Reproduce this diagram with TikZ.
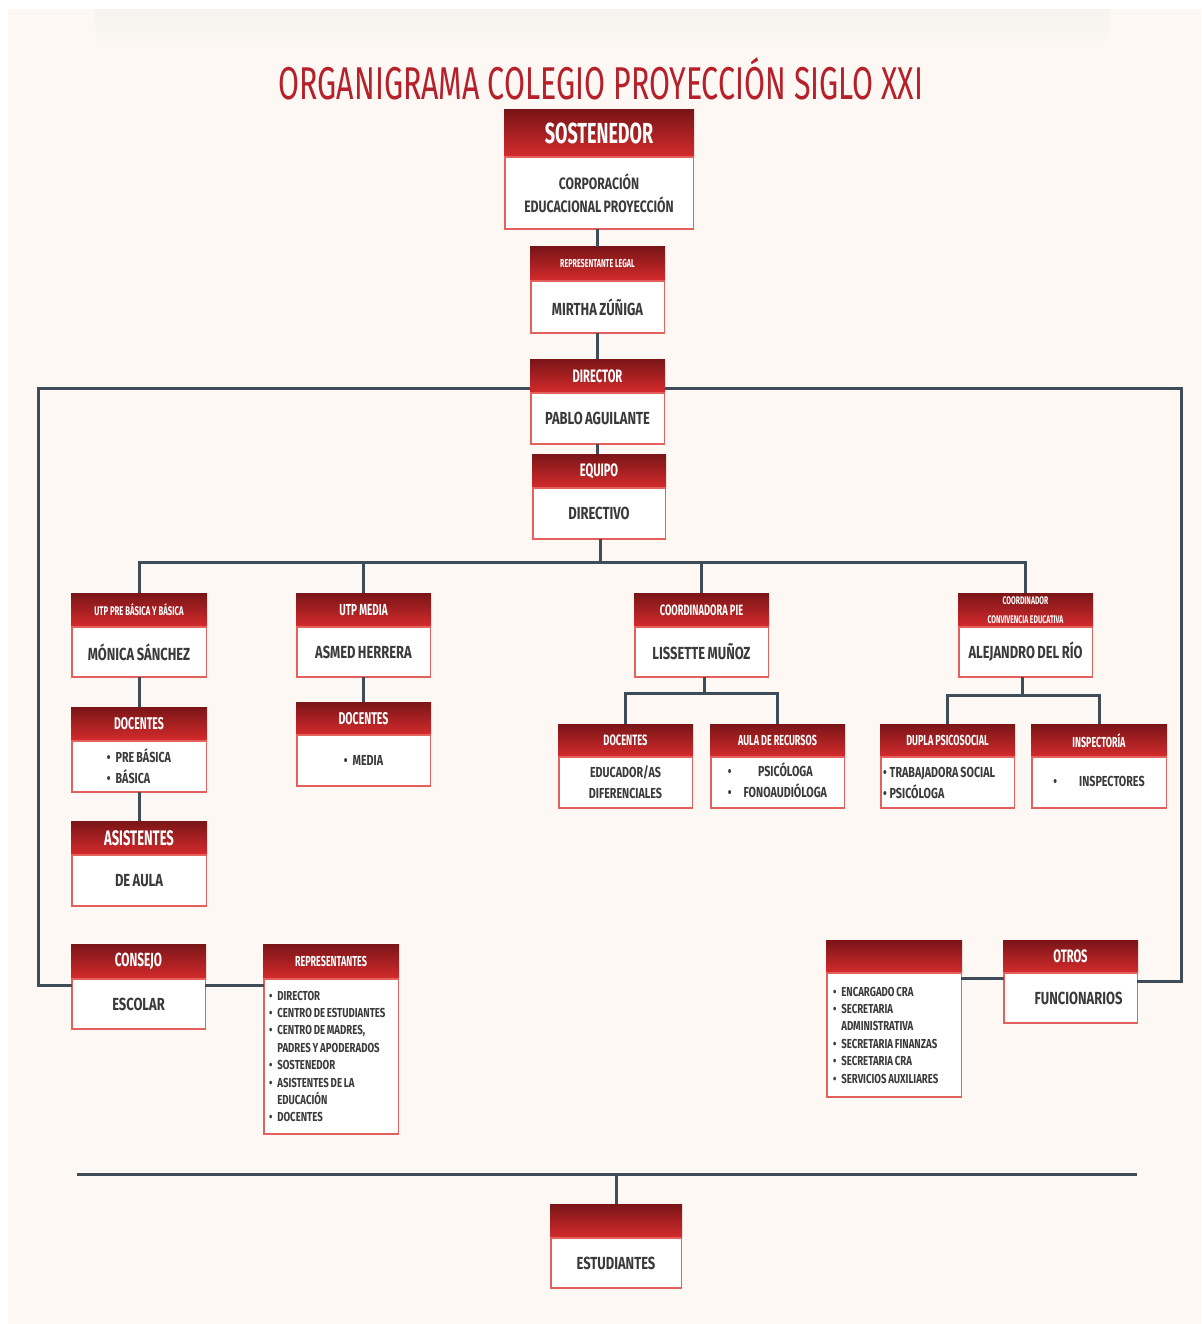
\documentclass[tikz,border=0pt]{standalone}
\usepackage{fontspec}
\setmainfont{Fira Sans}
\newfontfamily\headfam[FakeStretch=0.62]{Fira Sans}
\newfontfamily\bodyfam[FakeStretch=0.74,WordSpace=0.8]{Fira Sans}
\newfontfamily\titlefam[FakeStretch=0.66]{Fira Sans}
\usepackage{tikz}
\usetikzlibrary{positioning}

\definecolor{cream}{HTML}{FDF8F4}
\definecolor{band}{HTML}{EFEFEC}
\definecolor{hdark}{HTML}{7A1517}
\definecolor{hred}{HTML}{D52B2D}
\definecolor{bline}{HTML}{E4605C}
\definecolor{linkc}{HTML}{3F4D59}
\definecolor{txt}{HTML}{3A3A3A}
\definecolor{titlered}{HTML}{B5202A}

\newcommand\hdfont[1]{\headfam\bfseries\fontsize{#1}{#1}\selectfont}
\newcommand\bdfont[2]{\bodyfam\bfseries\fontsize{#1}{#2}\selectfont}
\newcommand\bul{•\hspace{5pt}}

\begin{document}
\begin{tikzpicture}[x=1pt,y=-1pt,node distance=0pt,
  head/.style={top color=hdark,bottom color=hred,text=white,minimum width=135pt,
    minimum height=34pt,inner sep=0pt,outer sep=0pt,anchor=north,font=\hdfont{17}},
  body/.style={draw=bline,line width=1.5pt,fill=white,text=txt,minimum width=133.5pt,
    minimum height=51pt,inner sep=0pt,outer sep=0pt,align=center,font=\bdfont{17.5}{21}},
  smallbody/.style={font=\bdfont{14.5}{21}},
  listbody/.style={font=\bdfont{13}{17.4},align=flush left},
  link/.style={draw=linkc,line width=3pt}]

\useasboundingbox (0,0) rectangle (1201,1324);
\fill[white] (0,0) rectangle (1201,1324);
\fill[cream] (8,9) rectangle (1201,1324);
\shade[top color=band,bottom color=cream,rounded corners=28pt] (95,-30) rectangle (1110,54);
\fill[white] (0,0) rectangle (1201,9);

\node[font=\titlefam\fontsize{46}{46}\selectfont,text=titlered] (title) at (601,79) {ORGANIGRAMA COLEGIO PROYECCIÓN SIGLO XXI};

% top column
\node[head,minimum width=190pt,minimum height=47pt,font=\hdfont{29}] (hsost) at (599,110) {SOSTENEDOR};
\node[body,minimum width=188.5pt,minimum height=72pt,font=\bdfont{16.5}{23},below=of hsost] (sost) {CORPORACIÓN\\EDUCACIONAL PROYECCIÓN};
\node[head,font=\hdfont{11.5}] (hrep) at (597.5,247) {REPRESENTANTE LEGAL};
\node[body,minimum height=52pt,below=of hrep] (rep) {MIRTHA ZÚÑIGA};
\node[head,font=\hdfont{18}] (hdir) at (597.5,359) {DIRECTOR};
\node[body,below=of hdir] (dir) {PABLO AGUILANTE};
\node[head,minimum width=134pt,font=\hdfont{18}] (hequ) at (599,454) {EQUIPO};
\node[body,minimum width=132.5pt,below=of hequ] (equ) {DIRECTIVO};

% second row
\node[head,minimum width=136pt,font=\hdfont{12.5}] (hutpb) at (139,593) {UTP PRE BÁSICA Y BÁSICA};
\node[body,minimum width=134.5pt,minimum height=50pt,below=of hutpb] (utpb) {MÓNICA SÁNCHEZ};
\node[head,font=\hdfont{16}] (hutpm) at (363.5,593) {UTP MEDIA};
\node[body,minimum height=50pt,below=of hutpm] (utpm) {ASMED HERRERA};
\node[head,font=\hdfont{15}] (hpie) at (701.5,593) {COORDINADORA PIE};
\node[body,minimum height=50pt,below=of hpie] (pie) {LISSETTE MUÑOZ};
\node[head,align=center,font=\hdfont{11},execute at begin node=\setlength{\baselineskip}{19pt}] (hconv) at (1025.5,593) {COORDINADOR\\CONVIVENCIA EDUCATIVA};
\node[body,minimum height=50pt,below=of hconv] (conv) {ALEJANDRO DEL RÍO};

% left columns
\node[head,minimum width=136pt,font=\hdfont{17}] (hdocb) at (139,707) {DOCENTES};
\node[body,smallbody,minimum width=134.5pt,align=left,below=of hdocb] (docb) {\bul PRE BÁSICA\\\bul BÁSICA};
\node[head,minimum height=33pt,font=\hdfont{17}] (hdocm) at (363.5,702) {DOCENTES};
\node[body,smallbody,below=of hdocm] (docm) {\bul MEDIA};
\node[head,minimum width=136pt,font=\hdfont{21}] (hasis) at (139,821) {ASISTENTES};
\node[body,minimum width=134.5pt,below=of hasis] (asis) {DE AULA};

% PIE and convivencia teams
\node[head,minimum height=33pt,font=\hdfont{15}] (hdocp) at (625.5,724) {DOCENTES};
\node[body,smallbody,below=of hdocp] (docp) {EDUCADOR/AS\\DIFERENCIALES};
\node[head,minimum height=33pt,font=\hdfont{14.5}] (haula) at (777.5,724) {AULA DE RECURSOS};
\node[body,smallbody,below=of haula] (aula) {\begin{tabular}{@{}l@{\hspace{12pt}}c@{}}•&PSICÓLOGA\\•&FONOAUDIÓLOGA\end{tabular}};
\node[head,minimum height=33pt,font=\hdfont{14.5}] (hdupla) at (947.5,724) {DUPLA PSICOSOCIAL};
\node[body,smallbody,text width=129pt,align=flush left,below=of hdupla] (dupla) {•\hspace{3pt}TRABAJADORA SOCIAL\\•\hspace{3pt}PSICÓLOGA};
\node[head,minimum width=136pt,minimum height=33pt,font=\hdfont{14.5}] (hinsp) at (1099,724) {INSPECTORÍA};
\node[body,smallbody,minimum width=134.5pt,below=of hinsp] (insp) {\begin{tabular}{@{}l@{\hspace{22pt}}c@{}}•&INSPECTORES\end{tabular}};

% bottom groups
\node[head,minimum height=35pt,font=\hdfont{19}] (hcons) at (138.5,944) {CONSEJO};
\node[body,minimum height=50pt,below=of hcons] (cons) {ESCOLAR};
\node[head,minimum width=136pt,minimum height=35pt,font=\hdfont{14.5}] (hrepr) at (331,944) {REPRESENTANTES};
\node[body,listbody,minimum width=134.5pt,minimum height=155pt,text width=124pt,below=of hrepr] (repr) {\bul DIRECTOR\\\bul CENTRO DE ESTUDIANTES\\\bul CENTRO DE MADRES,\\\phantom{\bul}PADRES Y APODERADOS\\\bul SOSTENEDOR\\\bul ASISTENTES DE LA\\\phantom{\bul}EDUCACIÓN\\\bul DOCENTES};
\node[head,minimum width=136pt,minimum height=33pt] (hstaff) at (894,940) {};
\node[body,listbody,minimum width=134.5pt,minimum height=124pt,text width=122pt,below=of hstaff] (staff) {\bul ENCARGADO CRA\\\bul SECRETARIA\\\phantom{\bul}ADMINISTRATIVA\\\bul SECRETARIA FINANZAS\\\bul SECRETARIA CRA\\\bul SERVICIOS AUXILIARES};
\node[head,minimum height=33pt,font=\hdfont{18}] (hotros) at (1070.5,940) {OTROS};
\node[body,minimum height=50pt,below=of hotros] (otros) {\hspace*{16pt}FUNCIONARIOS};
\node[head,minimum width=132pt,font=\hdfont{17}] (hest) at (616,1204) {};
\node[body,minimum width=130.5pt,minimum height=50pt,below=of hest] (est) {ESTUDIANTES};

% corners of the connectors
\coordinate (br) at (600,562);
\coordinate (pj) at (704,693);
\coordinate (cj) at (1022,695);
\coordinate (fl) at (38,388);
\coordinate (cl) at (38,985);
\coordinate (fr) at (1181,388);
\coordinate (cr) at (1181,981);
\coordinate (sj) at (962,978);
\coordinate (bl) at (77,1174);
\coordinate (bri) at (1137,1174);

\draw[link] (hrep.north) -- (hrep.north |- sost.south);
\draw[link] (hdir.north) -- (rep.south);
\draw[link] (hequ.north -| dir.south) -- (dir.south);
\draw[link] (equ.south -| br) -- (br);
\draw[link] (hutpb.north) |- (br) -| (hconv.north);
\draw[link] (hutpm.north) -- (hutpm.north |- br);
\draw[link] (hpie.north) -- (hpie.north |- br);
\draw[link] (utpb.south) -- (hdocb.north);
\draw[link] (docb.south) -- (hasis.north);
\draw[link] (utpm.south) -- (hdocm.north);
\draw[link] (pie.south -| pj) -- (pj);
\draw[link] (hdocp.north) |- (pj) -| (haula.north);
\draw[link] (conv.south -| cj) -- (cj);
\draw[link] (hdupla.north) |- (cj) -| (hinsp.north);
\draw[link] (hdir.west |- fl) -- (fl) -- (cl) -- (cl -| cons.west);
\draw[link] (cons.east |- cl) -- (repr.west |- cl);
\draw[link] (hdir.east |- fr) -- (fr) -- (cr) -- (cr -| otros.east);
\draw[link] (sj -| staff.east) -- (sj -| otros.west);
\draw[link] (bl) -- (bri);
\draw[link] (hest.north) -- (hest.north |- bl);
\end{tikzpicture}
\end{document}
